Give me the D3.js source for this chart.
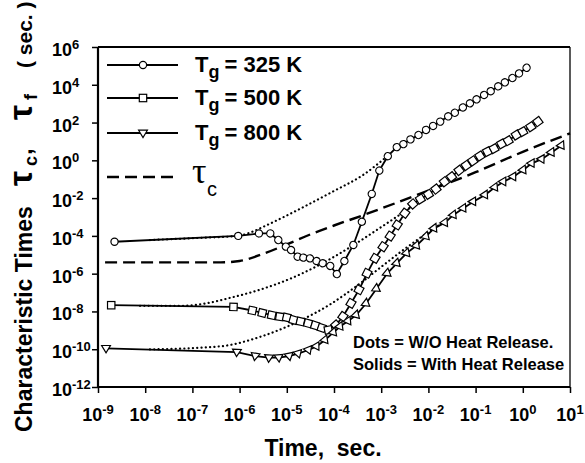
<!DOCTYPE html>
<html><head><meta charset="utf-8">
<script src="https://cdn.jsdelivr.net/npm/d3@7"></script>
<style>
body{margin:0;background:#fff;}
svg text{font-family:"Liberation Sans",Arial,Helvetica,sans-serif;font-weight:bold;fill:#000;}
</style></head><body>
<svg id="chart" width="585" height="463"></svg>
<script>
// ---- data (log10 exponents) ----
const xTickExps = [-9,-8,-7,-6,-5,-4,-3,-2,-1,0,1];
const yTickExps = [6,4,2,0,-2,-4,-6,-8,-10,-12];
const seriesNames = ["325 K","500 K","800 K"];

// Tg = 325 K, with heat release (circles)
const t325   = [-8.65,-6.03,-5.59,-5.35,-5.18,-5.02,-4.91,-4.77,-4.65,-4.51,-4.37,-4.24,-4.08,-3.94,-3.78,-3.59,-3.41,-3.20,-3.04,-2.86,-2.67,-2.53,-2.38,-2.21,-2.05,-1.90,-1.75,-1.58,-1.44,-1.27,-1.12,-0.98,-0.82,-0.68,-0.52,-0.38,-0.22,-0.08,0.08];
const tau325 = [-4.31,-4.00,-3.87,-3.87,-4.22,-4.57,-4.75,-5.10,-5.15,-5.19,-5.33,-5.45,-5.59,-6.02,-5.33,-4.48,-3.25,-1.78,-0.54,0.22,0.70,0.86,1.11,1.34,1.61,1.82,2.05,2.33,2.52,2.80,3.02,3.23,3.46,3.66,3.92,4.13,4.36,4.60,4.90];

// Tg = 500 K, with heat release (squares)
const t500   = [-8.72,-6.13,-5.73,-5.52,-5.32,-5.15,-5.00,-4.86,-4.71,-4.55,-4.40,-4.26,-4.12,-3.96,-3.81,-3.64,-3.47,-3.30,-3.13,-2.96,-2.81,-2.66,-2.50,-2.33,-2.17,-2.00,-1.84,-1.66,-1.51,-1.35,-1.20,-1.06,-0.91,-0.75,-0.61,-0.45,-0.31,-0.14,0.00,0.17,0.32];
const tau500 = [-7.67,-7.76,-7.95,-8.08,-8.20,-8.28,-8.32,-8.45,-8.53,-8.63,-8.74,-8.87,-8.98,-8.72,-8.27,-7.57,-6.85,-5.98,-5.19,-4.57,-4.01,-3.42,-2.80,-2.31,-2.05,-1.80,-1.52,-1.13,-0.87,-0.53,-0.27,-0.03,0.23,0.46,0.62,0.87,1.04,1.34,1.52,1.78,2.05];

// Tg = 800 K, with heat release (triangles)
const t800   = [-8.83,-6.06,-5.67,-5.38,-5.17,-4.95,-4.76,-4.54,-4.37,-4.19,-4.01,-3.87,-3.70,-3.53,-3.32,-3.10,-2.87,-2.67,-2.46,-2.25,-2.05,-1.88,-1.65,-1.47,-1.26,-1.05,-0.80,-0.59,-0.41,-0.20,0.01,0.19,0.40,0.61,0.82];
const tau800 = [-9.95,-10.15,-10.36,-10.45,-10.44,-10.36,-10.23,-10.04,-9.85,-9.51,-9.11,-8.80,-8.51,-8.19,-7.58,-6.80,-5.98,-5.45,-4.91,-4.51,-4.03,-3.60,-3.30,-2.89,-2.54,-2.19,-1.83,-1.43,-1.13,-0.87,-0.51,-0.16,0.06,0.42,0.78];

// without heat release (dotted)
const tDot325   = [-7.90,-6.80,-6.03,-5.70,-5.50,-5.00,-4.50,-4.00,-3.40,-2.88];
const tauDot325 = [-4.22,-4.10,-4.00,-3.75,-3.52,-2.92,-2.28,-1.62,-0.80,0.20];
const tDot500   = [-8.11,-7.20,-6.78,-6.20,-5.57,-4.93,-4.30,-3.66,-3.03,-2.50,-1.97];
const tauDot500 = [-7.70,-7.70,-7.60,-7.28,-6.85,-6.27,-5.52,-4.60,-3.58,-2.70,-1.80];
const tDot800   = [-7.90,-6.42,-5.57,-4.78,-4.08,-3.45,-3.03,-2.60,-2.18,-1.65];
const tauDot800 = [-10.01,-9.85,-9.35,-8.56,-7.62,-6.52,-5.70,-4.87,-4.11,-3.22];

// tau_c (dashed)
const tTauC   = [-8.85,-6.40,-6.00,-5.50,-5.00,-4.50,-4.00,-3.40,-2.70,-2.00,-1.00,0.00,1.00];
const tauTauC = [-5.40,-5.40,-5.33,-4.95,-4.45,-3.92,-3.45,-2.92,-2.27,-1.60,-0.63,0.45,1.43];

// ---- drawing ----
const svg = d3.select("#chart");
const W = 585, H = 463;
svg.append("rect").attr("width",W).attr("height",H).attr("fill","#fff");

const L = 98, R = 570, T = 47, B = 387;
const x = d3.scaleLog().domain([1e-9,1e1]).range([L,R]);
const y = d3.scaleLog().domain([1e-12,1e6]).range([B,T]);

const toPts = (ts, vs) => ts.map((e,i)=>({t:Math.pow(10,e), v:Math.pow(10,vs[i])}));
const lineLin = d3.line().x(d=>x(d.t)).y(d=>y(d.v));
const lineSmooth = d3.line().x(d=>x(d.t)).y(d=>y(d.v)).curve(d3.curveMonotoneX);

const plot = svg.append("g");

// dotted curves
[[tDot325,tauDot325],[tDot500,tauDot500],[tDot800,tauDot800]].forEach(([a,b])=>{
  plot.append("path").attr("d", lineSmooth(toPts(a,b)))
    .attr("fill","none").attr("stroke","#000").attr("stroke-width",2.2)
    .attr("stroke-linecap","round").attr("stroke-dasharray","0.1 4.2");
});
// tau_c dashed
plot.append("path").attr("d", lineSmooth(toPts(tTauC,tauTauC)))
  .attr("fill","none").attr("stroke","#000").attr("stroke-width",2.4)
  .attr("stroke-dasharray","12 6");

// solid series
const triPath = "M-4.4,-2.8L4.4,-2.8L0,4.6Z";
const markers = {
  circle: g => g.append("circle").attr("r",3.6),
  square: g => g.append("rect").attr("x",-3.7).attr("y",-3.7).attr("width",7.4).attr("height",7.4),
  tri: g => g.append("path").attr("d",triPath)
};
const series = [
  {ts:t325, vs:tau325, m:"circle"},
  {ts:t500, vs:tau500, m:"square"},
  {ts:t800, vs:tau800, m:"tri"}
];
series.forEach(s=>{
  const pts = toPts(s.ts, s.vs);
  plot.append("path").attr("d", lineLin(pts)).attr("fill","none")
    .attr("stroke","#000").attr("stroke-width",1.8);
  pts.forEach((d,i)=>{
    const p = pts[Math.max(0,i-1)], n = pts[Math.min(pts.length-1,i+1)];
    let ang = Math.atan2(y(n.v)-y(p.v), x(n.t)-x(p.t))*180/Math.PI;
    if (i===0) ang = 0;
    const g = plot.append("g").attr("transform",`translate(${x(d.t)},${y(d.v)}) rotate(${ang})`);
    markers[s.m](g).attr("fill","#fff").attr("stroke","#000").attr("stroke-width",1.2);
  });
});

// axes frame
svg.append("line").attr("x1",L).attr("x2",R).attr("y1",T).attr("y2",T).attr("stroke","#000").attr("stroke-width",2);
svg.append("line").attr("x1",R).attr("x2",R).attr("y1",T).attr("y2",B).attr("stroke","#000").attr("stroke-width",1.3);

const xAxis = d3.axisBottom(x).tickValues(xTickExps.map(e=>Math.pow(10,e))).tickSize(6).tickFormat("");
const yAxis = d3.axisLeft(y).tickValues(yTickExps.map(e=>Math.pow(10,e))).tickSize(6).tickFormat("");
const gx = svg.append("g").attr("transform",`translate(0,${B})`).call(xAxis);
const gy = svg.append("g").attr("transform",`translate(${L},0)`).call(yAxis);
[gx,gy].forEach(g=>{
  g.select(".domain").attr("stroke","#000").attr("stroke-width",2.2);
  g.selectAll(".tick line").attr("stroke","#000").attr("stroke-width",1.5);
});
gy.select(".domain").attr("d",`M0,${T}V${B}`);
gx.select(".domain").attr("d",`M${L},0H${R}`);

// tick labels
xTickExps.forEach(e=>{
  const t = svg.append("text").attr("x",x(Math.pow(10,e))).attr("y",421).attr("text-anchor","middle");
  t.append("tspan").attr("font-size",18).text("10");
  t.append("tspan").attr("font-size",13).attr("dy",-7).text(String(e));
});
yTickExps.forEach(e=>{
  const t = svg.append("text").attr("x",52).attr("y",y(Math.pow(10,e))+9);
  t.append("tspan").attr("font-size",18).text("10");
  t.append("tspan").attr("font-size",13).attr("dy",-7).text(String(e));
});

// axis titles
svg.append("text").attr("x",323).attr("y",456).attr("text-anchor","middle")
  .attr("font-size",23).style("white-space","pre").text("Time,  sec.");

const yt = svg.append("g").attr("transform","translate(32,0) rotate(-90)");
const ytxt = (sy, str, size, dv) =>
  yt.append("text").attr("x",-sy).attr("y",dv||0).attr("font-size",size).style("white-space","pre").text(str);
ytxt(432,"Characteristic Times",23);
ytxt(186,"\u03C4",34);
ytxt(166,"c",18,5);
ytxt(155,",",24);
ytxt(120,"\u03C4",34);
ytxt(100,"f",18,5);
ytxt(68,"( sec. )",21);

// legend
const legY = [65,98,133];
const legMk = ["circle","square","tri"];
legY.forEach((ly,i)=>{
  svg.append("line").attr("x1",107).attr("x2",178).attr("y1",ly).attr("y2",ly).attr("stroke","#000").attr("stroke-width",1.8);
  const g = svg.append("g").attr("transform",`translate(143,${ly})`);
  markers[legMk[i]](g).attr("fill","#fff").attr("stroke","#000").attr("stroke-width",1.2);
  const t = svg.append("text").attr("x",195).attr("y",ly+7);
  t.append("tspan").attr("font-size",22).text("T");
  t.append("tspan").attr("font-size",18).attr("dy",6).text("g");
  t.append("tspan").attr("font-size",22).attr("dy",-6).attr("dx",5).text("= " + seriesNames[i]);
});
svg.append("line").attr("x1",107).attr("x2",178).attr("y1",177).attr("y2",177)
  .attr("stroke","#000").attr("stroke-width",2.4).attr("stroke-dasharray","12 6");
svg.append("text").attr("x",192).attr("y",183).attr("font-size",36)
  .style("font-family","'Liberation Serif','Times New Roman',serif").style("font-weight","normal").text("\u03C4");
svg.append("text").attr("x",207).attr("y",196).attr("font-size",20)
  .style("font-weight","normal").text("c");

// annotation
svg.append("text").attr("x",353).attr("y",348).attr("font-size",16.5).text("Dots = W/O Heat Release.");
svg.append("text").attr("x",353).attr("y",370).attr("font-size",16.5).text("Solids = With Heat Release");
</script>
</body></html>
